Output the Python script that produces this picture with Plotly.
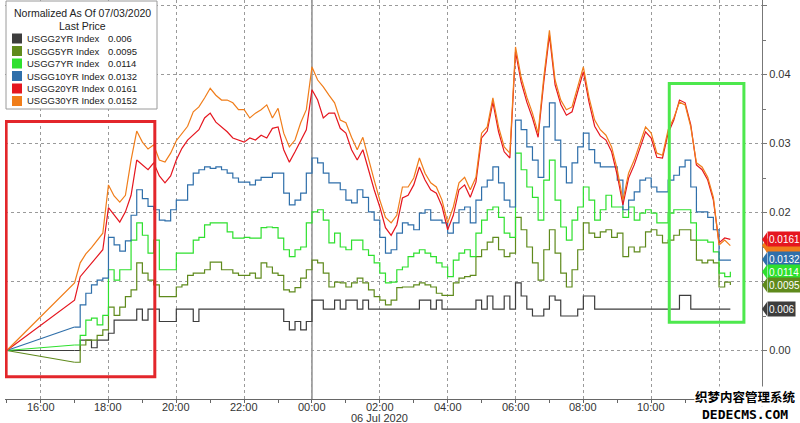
import pandas as pd
import plotly.graph_objects as go

# ---------------- data ----------------
norm_time = "2020-07-05 15:00"      # normalisation point (07/03 close)
session_start = "2020-07-05 17:00"  # Sunday session open
n_points = 117                      # 10-minute samples 17:00 -> 12:20
times = [pd.Timestamp(norm_time)] + list(pd.date_range(session_start, periods=n_points, freq="10min"))

series_names = ["USGG2YR Index", "USGG5YR Index", "USGG7YR Index",
                "USGG10YR Index", "USGG20YR Index", "USGG30YR Index"]
last_price_text = ["0.006", "0.0095", "0.0114", "0.0132", "0.0161", "0.0152"]
series_colors = ["#3d3d3d", "#5f8a1c", "#2ee02e", "#2f6faa", "#e5161f", "#f07d1a"]

usgg2yr = [0.0,
    0.0, 0.0015, 0.0015, 0.0004, 0.0015, 0.0015,
    0.0025, 0.0044, 0.0044, 0.0044, 0.0044, 0.006,
    0.0044, 0.006, 0.006, 0.0042, 0.0042, 0.0042,
    0.006, 0.006, 0.006, 0.0042, 0.006, 0.006,
    0.006, 0.006, 0.006, 0.006, 0.006, 0.006,
    0.006, 0.006, 0.006, 0.006, 0.006, 0.006,
    0.006, 0.0042, 0.003, 0.0042, 0.003, 0.0042,
    0.0073, 0.0073, 0.006, 0.006, 0.0073, 0.006,
    0.0073, 0.0073, 0.006, 0.0073, 0.006, 0.006,
    0.006, 0.006, 0.006, 0.006, 0.006, 0.006,
    0.006, 0.0073, 0.0073, 0.006, 0.0073, 0.006,
    0.006, 0.006, 0.006, 0.006, 0.006, 0.0073,
    0.006, 0.0079, 0.006, 0.006, 0.0079, 0.006,
    0.0098, 0.0079, 0.006, 0.005, 0.005, 0.006,
    0.0079, 0.0073, 0.005, 0.005, 0.005, 0.006,
    0.0079, 0.0079, 0.006, 0.006, 0.006, 0.006,
    0.006, 0.006, 0.006, 0.006, 0.006, 0.006,
    0.006, 0.006, 0.006, 0.006, 0.006, 0.008,
    0.008, 0.006, 0.006, 0.006, 0.006, 0.006,
    0.006, 0.006, 0.006]

usgg5yr = [0.0,
    -0.0017, 0.0008, 0.0015, 0.0015, 0.0022, 0.0030,
    0.0063, 0.0051, 0.0063, 0.0078, 0.0088, 0.0127,
    0.0112, 0.0102, 0.0095, 0.0078, 0.0078, 0.0078,
    0.0092, 0.0095, 0.0109, 0.0112, 0.0112, 0.0117,
    0.0128, 0.0128, 0.0117, 0.0117, 0.0112, 0.0109,
    0.0109, 0.0112, 0.0105, 0.0127, 0.0121, 0.0112,
    0.0109, 0.0088, 0.0085, 0.0091, 0.0105, 0.0117,
    0.0131, 0.0127, 0.0112, 0.0092, 0.0099, 0.0098,
    0.0092, 0.0098, 0.0105, 0.0098, 0.0088, 0.0078,
    0.0073, 0.0066, 0.0073, 0.0091, 0.0092, 0.0092,
    0.0095, 0.0098, 0.0095, 0.0092, 0.0083, 0.0080,
    0.0080, 0.0098, 0.0105, 0.0107, 0.0109, 0.0136,
    0.0146, 0.0157, 0.0164, 0.0146, 0.0136, 0.0141,
    0.0193, 0.0175, 0.0150, 0.0127, 0.0102, 0.0146,
    0.0175, 0.0141, 0.0112, 0.0092, 0.0117, 0.0146,
    0.0185, 0.0170, 0.0164, 0.0172, 0.0175, 0.0164,
    0.0170, 0.0136, 0.0150, 0.0143, 0.0150, 0.0172,
    0.0175, 0.0167, 0.0156, 0.0160, 0.0167, 0.0175,
    0.0175, 0.0160, 0.0131, 0.0127, 0.0131, 0.0127,
    0.0092, 0.0099, 0.0095]

usgg7yr = [0.0,
    0.0008, 0.0022, 0.0044, 0.0047, 0.0037, 0.0051,
    0.0117, 0.0102, 0.0117, 0.0117, 0.0160, 0.0185,
    0.0167, 0.0141, 0.0160, 0.0117, 0.0117, 0.0117,
    0.0141, 0.0141, 0.0141, 0.0160, 0.0164, 0.0182,
    0.0185, 0.0185, 0.0185, 0.0172, 0.0163, 0.0163,
    0.0164, 0.0163, 0.0163, 0.0178, 0.0179, 0.0178,
    0.0163, 0.0146, 0.0136, 0.0146, 0.0150, 0.0185,
    0.0201, 0.0204, 0.0189, 0.0156, 0.0170, 0.0150,
    0.0146, 0.0160, 0.0160, 0.0146, 0.0138, 0.0127,
    0.0112, 0.0098, 0.0099, 0.0117, 0.0121, 0.0136,
    0.0141, 0.0146, 0.0141, 0.0136, 0.0127, 0.0121,
    0.0107, 0.0131, 0.0141, 0.0146, 0.0136, 0.0170,
    0.0189, 0.0204, 0.0208, 0.0193, 0.0170, 0.0164,
    0.0286, 0.0262, 0.0237, 0.0222, 0.0189, 0.0247,
    0.0276, 0.0218, 0.0179, 0.0160, 0.0189, 0.0208,
    0.0237, 0.0218, 0.0189, 0.0204, 0.0225, 0.0208,
    0.0208, 0.0193, 0.0208, 0.0189, 0.0199, 0.0204,
    0.0199, 0.0185, 0.0185, 0.0199, 0.0204, 0.0204,
    0.0204, 0.0185, 0.0160, 0.0160, 0.0157, 0.0143,
    0.0112, 0.0107, 0.0114]

usgg10yr = [0.0,
    0.0034, 0.0066, 0.0083, 0.0095, 0.0102, 0.0105,
    0.0164, 0.0153, 0.0144, 0.0159, 0.0196, 0.0233,
    0.0220, 0.0209, 0.0204, 0.0189, 0.0188, 0.0204,
    0.0218, 0.0218, 0.0240, 0.0257, 0.0262, 0.0266,
    0.0264, 0.0266, 0.0262, 0.0257, 0.0250, 0.0244,
    0.0244, 0.0240, 0.0247, 0.0251, 0.0251, 0.0257,
    0.0257, 0.0228, 0.0211, 0.0218, 0.0228, 0.0257,
    0.0279, 0.0272, 0.0257, 0.0243, 0.0243, 0.0233,
    0.0218, 0.0214, 0.0233, 0.0222, 0.0201, 0.0189,
    0.0164, 0.0141, 0.0146, 0.0170, 0.0185, 0.0182,
    0.0175, 0.0199, 0.0204, 0.0189, 0.0189, 0.0185,
    0.0170, 0.0185, 0.0204, 0.0208, 0.0185, 0.0218,
    0.0237, 0.0247, 0.0266, 0.0243, 0.0218, 0.0208,
    0.0334, 0.0320, 0.0295, 0.0276, 0.0251, 0.0324,
    0.0359, 0.0305, 0.0266, 0.0243, 0.0272, 0.0295,
    0.0315, 0.0291, 0.0272, 0.0266, 0.0266, 0.0266,
    0.0247, 0.0204, 0.0218, 0.0230, 0.0247, 0.0250,
    0.0237, 0.0230, 0.0230, 0.0247, 0.0254, 0.0266,
    0.0276, 0.0237, 0.0201, 0.0201, 0.0193, 0.0175,
    0.0131, 0.0131, 0.0132]

usgg20yr = [0.0,
    0.0073, 0.0107, 0.0117, 0.0127, 0.0136, 0.0146,
    0.0207, 0.0196, 0.0186, 0.0201, 0.0225, 0.0276,
    0.0269, 0.0262, 0.0272, 0.0253, 0.0243, 0.0253,
    0.0276, 0.0293, 0.0305, 0.0312, 0.0320, 0.0337,
    0.0344, 0.0331, 0.0324, 0.0317, 0.0308, 0.0305,
    0.0302, 0.0308, 0.0305, 0.0312, 0.0308, 0.0322,
    0.0324, 0.0291, 0.0273, 0.0288, 0.0305, 0.0320,
    0.0378, 0.0363, 0.0337, 0.0344, 0.0344, 0.0322,
    0.0315, 0.0291, 0.0276, 0.0291, 0.0262, 0.0233,
    0.0208, 0.0178, 0.0167, 0.0182, 0.0221, 0.0225,
    0.0240, 0.0266, 0.0247, 0.0233, 0.0228, 0.0209,
    0.0175, 0.0196, 0.0233, 0.0240, 0.0222, 0.0244,
    0.0308, 0.0318, 0.0360, 0.0317, 0.0288, 0.0279,
    0.0433, 0.0389, 0.0360, 0.0337, 0.0309, 0.0389,
    0.0457, 0.0385, 0.0357, 0.0341, 0.0346, 0.0375,
    0.0404, 0.0360, 0.0325, 0.0311, 0.0305, 0.0288,
    0.0254, 0.0211, 0.0250, 0.0269, 0.0293, 0.0317,
    0.0308, 0.0280, 0.0279, 0.0315, 0.0334, 0.0363,
    0.0359, 0.0327, 0.0269, 0.0262, 0.0247, 0.0218,
    0.0156, 0.0163, 0.0161]

usgg30yr = [0.0,
    0.0098, 0.0127, 0.0140, 0.0149, 0.0160, 0.0170,
    0.0240, 0.0224, 0.0215, 0.0225, 0.0276, 0.0318,
    0.0302, 0.0292, 0.0298, 0.0276, 0.0273, 0.0286,
    0.0304, 0.0314, 0.0325, 0.0346, 0.0353, 0.0366,
    0.0380, 0.0370, 0.0363, 0.0363, 0.0359, 0.0349,
    0.0349, 0.0337, 0.0344, 0.0349, 0.0356, 0.0337,
    0.0351, 0.0315, 0.0295, 0.0305, 0.0330, 0.0349,
    0.0411, 0.0392, 0.0382, 0.0370, 0.0359, 0.0334,
    0.0330, 0.0309, 0.0291, 0.0309, 0.0276, 0.0247,
    0.0218, 0.0193, 0.0185, 0.0196, 0.0237, 0.0237,
    0.0250, 0.0279, 0.0257, 0.0243, 0.0237, 0.0218,
    0.0185, 0.0208, 0.0243, 0.0251, 0.0233, 0.0251,
    0.0315, 0.0324, 0.0366, 0.0324, 0.0295, 0.0286,
    0.0440, 0.0396, 0.0367, 0.0344, 0.0315, 0.0396,
    0.0464, 0.0392, 0.0363, 0.0349, 0.0353, 0.0382,
    0.0411, 0.0367, 0.0334, 0.0320, 0.0312, 0.0295,
    0.0262, 0.0218, 0.0257, 0.0276, 0.0301, 0.0324,
    0.0315, 0.0286, 0.0283, 0.0320, 0.0337, 0.0360,
    0.0356, 0.0324, 0.0272, 0.0266, 0.0251, 0.0222,
    0.0153, 0.0160, 0.0152]

all_series = [usgg2yr, usgg5yr, usgg7yr, usgg10yr, usgg20yr, usgg30yr]
line_shapes = ["hv", "hv", "hv", "hv", "linear", "linear"]

y_tick_vals = [0.00, 0.01, 0.02, 0.03, 0.04, 0.05]
y_tick_text = ["0.00", "", "0.02", "0.03", "0.04", "0.05"]
x_tick_times = ["2020-07-05 16:00", "2020-07-05 18:00", "2020-07-05 20:00", "2020-07-05 22:00",
                "2020-07-06 00:00", "2020-07-06 02:00", "2020-07-06 04:00", "2020-07-06 06:00",
                "2020-07-06 08:00", "2020-07-06 10:00"]
x_tick_text = ["16:00", "18:00", "20:00", "22:00", "00:00", "02:00", "04:00", "06:00",
               "08:00", "10:00"]
legend_title = "Normalized As Of 07/03/2020"
legend_subtitle = "Last Price"
date_label = "06 Jul 2020"

# ---------------- layout constants ----------------
W, H = 800, 423
M_L, M_R, M_T, M_B = 5, 38, 0, 24
PW, PH = W - M_L - M_R, H - M_T - M_B
Y_RANGE = [-0.00703, 0.0508]
X_RANGE = ["2020-07-05 14:57", "2020-07-06 13:16"]
FONT = "Liberation Sans"


def px(x):
    return (x - M_L) / PW


def py(y):
    return 1 - (y - M_T) / PH


def val_to_py(v):
    return (v - Y_RANGE[0]) / (Y_RANGE[1] - Y_RANGE[0])


fig = go.Figure()

for name, vals, col, shp in zip(series_names, all_series, series_colors, line_shapes):
    if shp == "hv":
        # straight connector from the normalisation point to the session open
        fig.add_trace(go.Scatter(x=times[:2], y=vals[:2], mode="lines",
                                 line=dict(color=col, width=1.2), showlegend=False,
                                 hoverinfo="skip"))
        fig.add_trace(go.Scatter(x=times[1:], y=vals[1:], mode="lines", name=name,
                                 line=dict(color=col, width=1.2, shape="hv"),
                                 showlegend=False))
    else:
        fig.add_trace(go.Scatter(x=times, y=vals, mode="lines", name=name,
                                 line=dict(color=col, width=1.2), showlegend=False))

shapes = []
annotations = []

# solid day-boundary line
shapes.append(dict(type="line", xref="x", yref="paper", x0="2020-07-06 00:00", x1="2020-07-06 00:00",
                   y0=0, y1=1, line=dict(color="#555555", width=1), layer="below"))
# y axis line extension below plot
shapes.append(dict(type="line", xref="paper", yref="paper", x0=1, x1=1, y0=-0.045, y1=0,
                   line=dict(color="#777777", width=1)))

# highlight boxes
shapes.append(dict(type="rect", xref="x", yref="y", x0="2020-07-05 14:59", x1="2020-07-05 19:22",
                   y0=-0.0038, y1=0.0332, line=dict(color="#e3262b", width=3),
                   fillcolor="rgba(0,0,0,0)", layer="above"))
shapes.append(dict(type="rect", xref="x", yref="y", x0="2020-07-06 10:32", x1="2020-07-06 12:44",
                   y0=0.0041, y1=0.0387, line=dict(color="#4de84d", width=3),
                   fillcolor="rgba(0,0,0,0)", layer="above"))

# legend box
shapes.append(dict(type="rect", xref="paper", yref="paper", x0=px(6), x1=px(157), y0=py(1), y1=py(109),
                   line=dict(color="#9a9a9a", width=1), fillcolor="white", layer="above"))
annotations.append(dict(xref="paper", yref="paper", x=px(82), y=py(13), text=legend_title,
                        showarrow=False, xanchor="center", yanchor="middle",
                        font=dict(family=FONT, size=10.5, color="#222")))
annotations.append(dict(xref="paper", yref="paper", x=px(82), y=py(26), text=legend_subtitle,
                        showarrow=False, xanchor="center", yanchor="middle",
                        font=dict(family=FONT, size=10.5, color="#222")))
for k, (name, lp, col) in enumerate(zip(series_names, last_price_text, series_colors)):
    yc = 38.5 + 12.5 * k
    shapes.append(dict(type="rect", xref="paper", yref="paper", x0=px(12), x1=px(22),
                       y0=py(yc - 5), y1=py(yc + 5), line=dict(width=0), fillcolor=col, layer="above"))
    annotations.append(dict(xref="paper", yref="paper", x=px(25), y=py(yc), text=name,
                            showarrow=False, xanchor="left", yanchor="middle",
                            font=dict(family=FONT, size=9.5, color="#222")))
    annotations.append(dict(xref="paper", yref="paper", x=px(106), y=py(yc), text=lp,
                            showarrow=False, xanchor="left", yanchor="middle",
                            font=dict(family=FONT, size=9.5, color="#222")))

# last-price tags on the right axis (30YR first; it sits hidden behind the 20YR tag)
tag_order = [5, 4, 3, 2, 1, 0]
half = 7 / PH
for k in tag_order:
    v = all_series[k][-1]
    pyv = val_to_py(v)
    shapes.append(dict(type="path", xref="paper", yref="paper",
                       path=f"M {px(762)},{pyv} L {px(767)},{pyv + half} L {px(767)},{pyv - half} Z",
                       fillcolor=series_colors[k], line=dict(width=0), layer="above"))
    if k == 5:
        # covered tag: body only
        shapes.append(dict(type="rect", xref="paper", yref="paper", x0=px(766.5), x1=px(800),
                           y0=pyv - half, y1=pyv + half, fillcolor=series_colors[k],
                           line=dict(width=0), layer="above"))
        continue
    annotations.append(dict(xref="paper", yref="y", x=px(766.5), y=v, text=last_price_text[k],
                            showarrow=False, xanchor="left", yanchor="middle", align="left",
                            bgcolor=series_colors[k], borderpad=1, height=12,
                            font=dict(family=FONT, size=10, color="white")))

# x tick labels
for t, lab in zip(x_tick_times, x_tick_text):
    annotations.append(dict(xref="x", yref="paper", x=t, y=py(406.5), text=lab,
                            showarrow=False, xanchor="center", yanchor="middle",
                            font=dict(family=FONT, size=11, color="#333")))

# date label
annotations.append(dict(xref="x", yref="paper", x="2020-07-06 02:00", y=py(418), text=date_label,
                        showarrow=False, xanchor="center", yanchor="middle",
                        font=dict(family=FONT, size=11, color="#333")))

# site watermark
annotations.append(dict(xref="paper", yref="paper", x=px(745), y=py(396.5), text="<b>织梦内容管理系统</b>",
                        showarrow=False, xanchor="center", yanchor="middle", bgcolor="white",
                        borderpad=0,
                        font=dict(family="Noto Sans CJK SC", size=12.5, color="black")))
annotations.append(dict(xref="paper", yref="paper", x=px(745), y=py(414), text="<b>DEDECMS.COM</b>",
                        showarrow=False, xanchor="center", yanchor="middle", bgcolor="white",
                        borderpad=0,
                        font=dict(family="DejaVu Sans Mono", size=13, color="black")))

fig.update_layout(
    width=W, height=H, autosize=False,
    margin=dict(l=M_L, r=M_R, t=M_T, b=M_B),
    paper_bgcolor="white", plot_bgcolor="white",
    font=dict(family=FONT, size=11, color="#333"),
    shapes=shapes, annotations=annotations, showlegend=False,
    xaxis=dict(
        type="date", range=X_RANGE, showticklabels=False,
        tick0="2020-07-05 16:00", dtick=2 * 3600 * 1000,
        showgrid=True, gridcolor="#9a9a9a", griddash="dot", gridwidth=1,
        showline=True, linecolor="#666", linewidth=1,
        ticks="outside", ticklen=3, tickcolor="#666",
        minor=dict(dtick=3600 * 1000, tick0="2020-07-05 16:00", ticks="outside",
                   ticklen=3, tickcolor="#666", showgrid=False),
        zeroline=False,
    ),
    yaxis=dict(
        side="right", range=Y_RANGE, tickvals=y_tick_vals, ticktext=y_tick_text,
        showgrid=True, gridcolor="#9a9a9a", griddash="dot", gridwidth=1,
        showline=True, linecolor="#777", linewidth=1,
        ticks="outside", ticklen=4, tickcolor="#777",
        minor=dict(tickvals=[0.005, 0.015, 0.025, 0.035, 0.045], ticks="outside",
                   ticklen=3, tickcolor="#777", showgrid=False),
        tickfont=dict(family=FONT, size=11, color="#333"), zeroline=False,
    ),
)

fig.write_html("out.html", config={"displayModeBar": False},
               post_script="document.body.style.margin='0px';")
